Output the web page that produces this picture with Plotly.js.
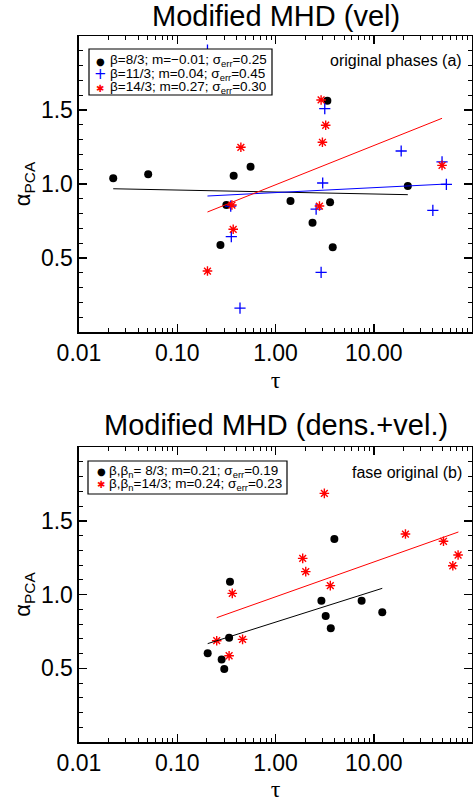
<!DOCTYPE html>
<html>
<head>
<meta charset="utf-8">
<script src="https://cdn.plot.ly/plotly-3.0.1.min.js"></script>
<style>html,body{margin:0;padding:0;background:#fff;}#chart{width:473px;height:802px;}</style>
</head>
<body>
<div id="chart"></div>
<script>
// ---- Panel (a): Modified MHD (vel) ----
var topBlackX = [0.0223, 0.0506, 0.375, 0.557, 0.316, 0.275, 3.37, 22.2, 1.42, 3.59, 2.38, 3.82];
var topBlackY = [1.039, 1.066, 1.056, 1.117, 0.858, 0.588, 1.563, 0.986, 0.885, 0.876, 0.739, 0.572];
var topBlueX = [0.203, 3.17, 3.02, 19.0, 49.5, 54.8, 39.9, 2.59, 2.91, 0.355, 0.435, 0.35];
var topBlueY = [1.905, 1.509, 1.007, 1.223, 1.149, 0.998, 0.822, 0.831, 0.403, 0.644, 0.162, 0.850];
var topRedX = [2.91, 3.24, 3.0, 49.5, 2.8, 0.444, 0.36, 0.371, 0.203];
var topRedY = [1.568, 1.397, 1.282, 1.126, 0.851, 1.248, 0.858, 0.694, 0.412];
var topBlackFitX = [0.0223, 22.2], topBlackFitY = [0.968, 0.928];
var topBlueFitX = [0.203, 54.8], topBlueFitY = [0.919, 1.0];
var topRedFitX = [0.203, 49.5], topRedFitY = [0.811, 1.444];
var topNames = ["β=8/3; m=−0.01; σ<sub>err</sub>=0.25", "β=11/3; m=0.04; σ<sub>err</sub>=0.45", "β=14/3; m=0.27; σ<sub>err</sub>=0.30"];

// ---- Panel (b): Modified MHD (dens.+vel.) ----
var botBlackX = [0.344, 0.337, 0.204, 0.283, 0.301, 2.93, 3.24, 3.65, 7.52, 12.2, 3.97];
var botBlackY = [1.087, 0.707, 0.601, 0.56, 0.495, 0.958, 0.854, 0.771, 0.958, 0.879, 1.376];
var botRedX = [0.363, 0.252, 0.462, 0.337, 2.03, 3.61, 3.14, 1.89, 21.0, 51.2, 72.1, 63.7];
var botRedY = [1.008, 0.687, 0.696, 0.585, 1.155, 1.06, 1.686, 1.245, 1.41, 1.361, 1.268, 1.195];
var botBlackFitX = [0.204, 12.2], botBlackFitY = [0.667, 1.042];
var botRedFitX = [0.252, 72.6], botRedFitY = [0.843, 1.424];
var botNames = ["β,β<sub>n</sub>= 8/3; m=0.21; σ<sub>err</sub>=0.19", "β,β<sub>n</sub>=14/3; m=0.24; σ<sub>err</sub>=0.23"];

// ---- ticks ----
var xTickVals = [0.01, 0.1, 1, 10];
var xTickText = ["0.01", "0.10", "1.00", "10.00"];
var yTickVals = [0.5, 1.0, 1.5];
var yTickText = ["0.5", "1.0", "1.5"];
var xMinor = [];
[0.01, 0.1, 1, 10].forEach(function (d) { for (var k = 2; k <= 9; k++) xMinor.push(+(d * k).toPrecision(3)); });

var FONT = "Liberation Sans, Arial, Helvetica, sans-serif";
var H = 802, W = 473;
function px(x) { return x / W; }
function py(y) { return 1 - y / H; }

function dots(x, y, name, top, sym, color, size, lw) {
  return {
    x: x, y: y, type: 'scatter', mode: 'markers', name: name, showlegend: false,
    marker: { symbol: sym, size: size, color: color, line: { color: color, width: lw } },
    xaxis: top ? 'x' : 'x2', yaxis: top ? 'y' : 'y2'
  };
}
function fit(x, y, color, top) {
  return { x: x, y: y, type: 'scatter', mode: 'lines', showlegend: false,
    line: { color: color, width: 1 }, xaxis: top ? 'x' : 'x2', yaxis: top ? 'y' : 'y2', hoverinfo: 'skip' };
}

var data = [
  dots(topBlackX, topBlackY, topNames[0], true, 'circle', 'black', 8, 0),
  dots(topBlueX, topBlueY, topNames[1], true, 'cross-thin-open', 'blue', 8, 1.3),
  dots(topRedX, topRedY, topNames[2], true, 'asterisk-open', 'red', 8, 1.4),
  fit(topBlackFitX, topBlackFitY, 'black', true),
  fit(topBlueFitX, topBlueFitY, 'blue', true),
  fit(topRedFitX, topRedFitY, 'red', true),
  dots(botBlackX, botBlackY, botNames[0], false, 'circle', 'black', 8, 0),
  dots(botRedX, botRedY, botNames[1], false, 'asterisk-open', 'red', 8, 1.4),
  fit(botBlackFitX, botBlackFitY, 'black', false),
  fit(botRedFitX, botRedFitY, 'red', false)
];

function xAxis(anchor) {
  return {
    type: 'log', range: [-2, 2], domain: [0.167, 0.998], anchor: anchor,
    tickmode: 'array', tickvals: xTickVals, ticktext: xTickText,
    ticks: 'inside', ticklen: 8, tickwidth: 1.5, tickcolor: 'black',
    showline: true, linewidth: 1.5, linecolor: 'black', mirror: 'ticks',
    showgrid: false, zeroline: false,
    minor: { tickmode: 'array', tickvals: xMinor, ticks: 'inside', ticklen: 4, tickwidth: 1, tickcolor: 'black', showgrid: false },
    tickfont: { family: FONT, size: 23, color: 'black' },
    title: { text: 'τ', font: { family: 'Liberation Serif, DejaVu Serif, serif', size: 24, color: 'black' }, standoff: 6 },
    automargin: false
  };
}
function yAxis(dom, anchor) {
  return {
    range: [0, 2], domain: dom, anchor: anchor,
    tickmode: 'array', tickvals: yTickVals, ticktext: yTickText,
    ticks: 'inside', ticklen: 8, tickwidth: 1.5, tickcolor: 'black',
    showline: true, linewidth: 1.5, linecolor: 'black', mirror: 'ticks',
    showgrid: false, zeroline: false,
    minor: { dtick: 0.1, ticks: 'inside', ticklen: 4, tickwidth: 1, tickcolor: 'black', showgrid: false },
    tickfont: { family: FONT, size: 23, color: 'black' },
    title: { text: 'α<sub>PCA</sub>', font: { family: FONT, size: 22, color: 'black' }, standoff: 4 },
    automargin: false
  };
}

function ann(text, x, y, size, xanchor, color, family, h) {
  var a = { text: text, xref: 'paper', yref: 'paper', x: px(x), y: py(y), xanchor: xanchor || 'left', yanchor: 'middle',
    showarrow: false, borderpad: 0, font: { family: family || FONT, size: size, color: color || 'black' } };
  if (h) { a.height = h; a.valign = 'middle'; }
  return a;
}

// legend: [symbol, color, symbol size] per entry, text from the names arrays
var topLegSym = [['●', 'black', 10], ['+', 'blue', 15], ['✱', 'red', 10]];
var botLegSym = [['●', 'black', 10], ['✱', 'red', 10]];
var topRowsY = [61, 74.3, 87.7];
var botRowsY = [471, 484.3];

var annotations = [
  ann('Modified MHD (vel)', 276, 16, 29, 'center'),
  ann('Modified MHD (dens.+vel.)', 276, 425, 29, 'center'),
  ann('original phases (a)', 463, 60, 16, 'right'),
  ann('fase original (b)', 463, 472, 16, 'right')
];
topNames.forEach(function (n, i) {
  annotations.push(ann(topLegSym[i][0], 100, topRowsY[i], topLegSym[i][2], 'center', topLegSym[i][1], 'DejaVu Sans, sans-serif', 12));
  annotations.push(ann(n, 109, topRowsY[i], 13.5, 'left', 'black', FONT, 13));
});
botNames.forEach(function (n, i) {
  annotations.push(ann(botLegSym[i][0], 101, botRowsY[i], botLegSym[i][2], 'center', botLegSym[i][1], 'DejaVu Sans, sans-serif', 12));
  annotations.push(ann(n, 108, botRowsY[i], 13.5, 'left', 'black', FONT, 13));
});

var shapes = [
  { type: 'rect', xref: 'paper', yref: 'paper', x0: px(89), x1: px(272), y0: py(49), y1: py(95), line: { color: 'black', width: 1.2 }, fillcolor: 'white', layer: 'above' },
  { type: 'rect', xref: 'paper', yref: 'paper', x0: px(88), x1: px(287), y0: py(461), y1: py(494), line: { color: 'black', width: 1.2 }, fillcolor: 'white', layer: 'above' }
];

var layout = {
  width: W, height: H,
  margin: { l: 0, r: 0, t: 0, b: 0 },
  paper_bgcolor: 'white', plot_bgcolor: 'white',
  showlegend: false,
  font: { family: FONT, color: 'black' },
  xaxis: xAxis('y'),
  yaxis: yAxis([0.586, 0.9551], 'x'),
  xaxis2: xAxis('y2'),
  yaxis2: yAxis([0.0748, 0.4426], 'x2'),
  annotations: annotations,
  shapes: shapes
};

Plotly.newPlot('chart', data, layout, { displayModeBar: false, staticPlot: true });
</script>
</body>
</html>
